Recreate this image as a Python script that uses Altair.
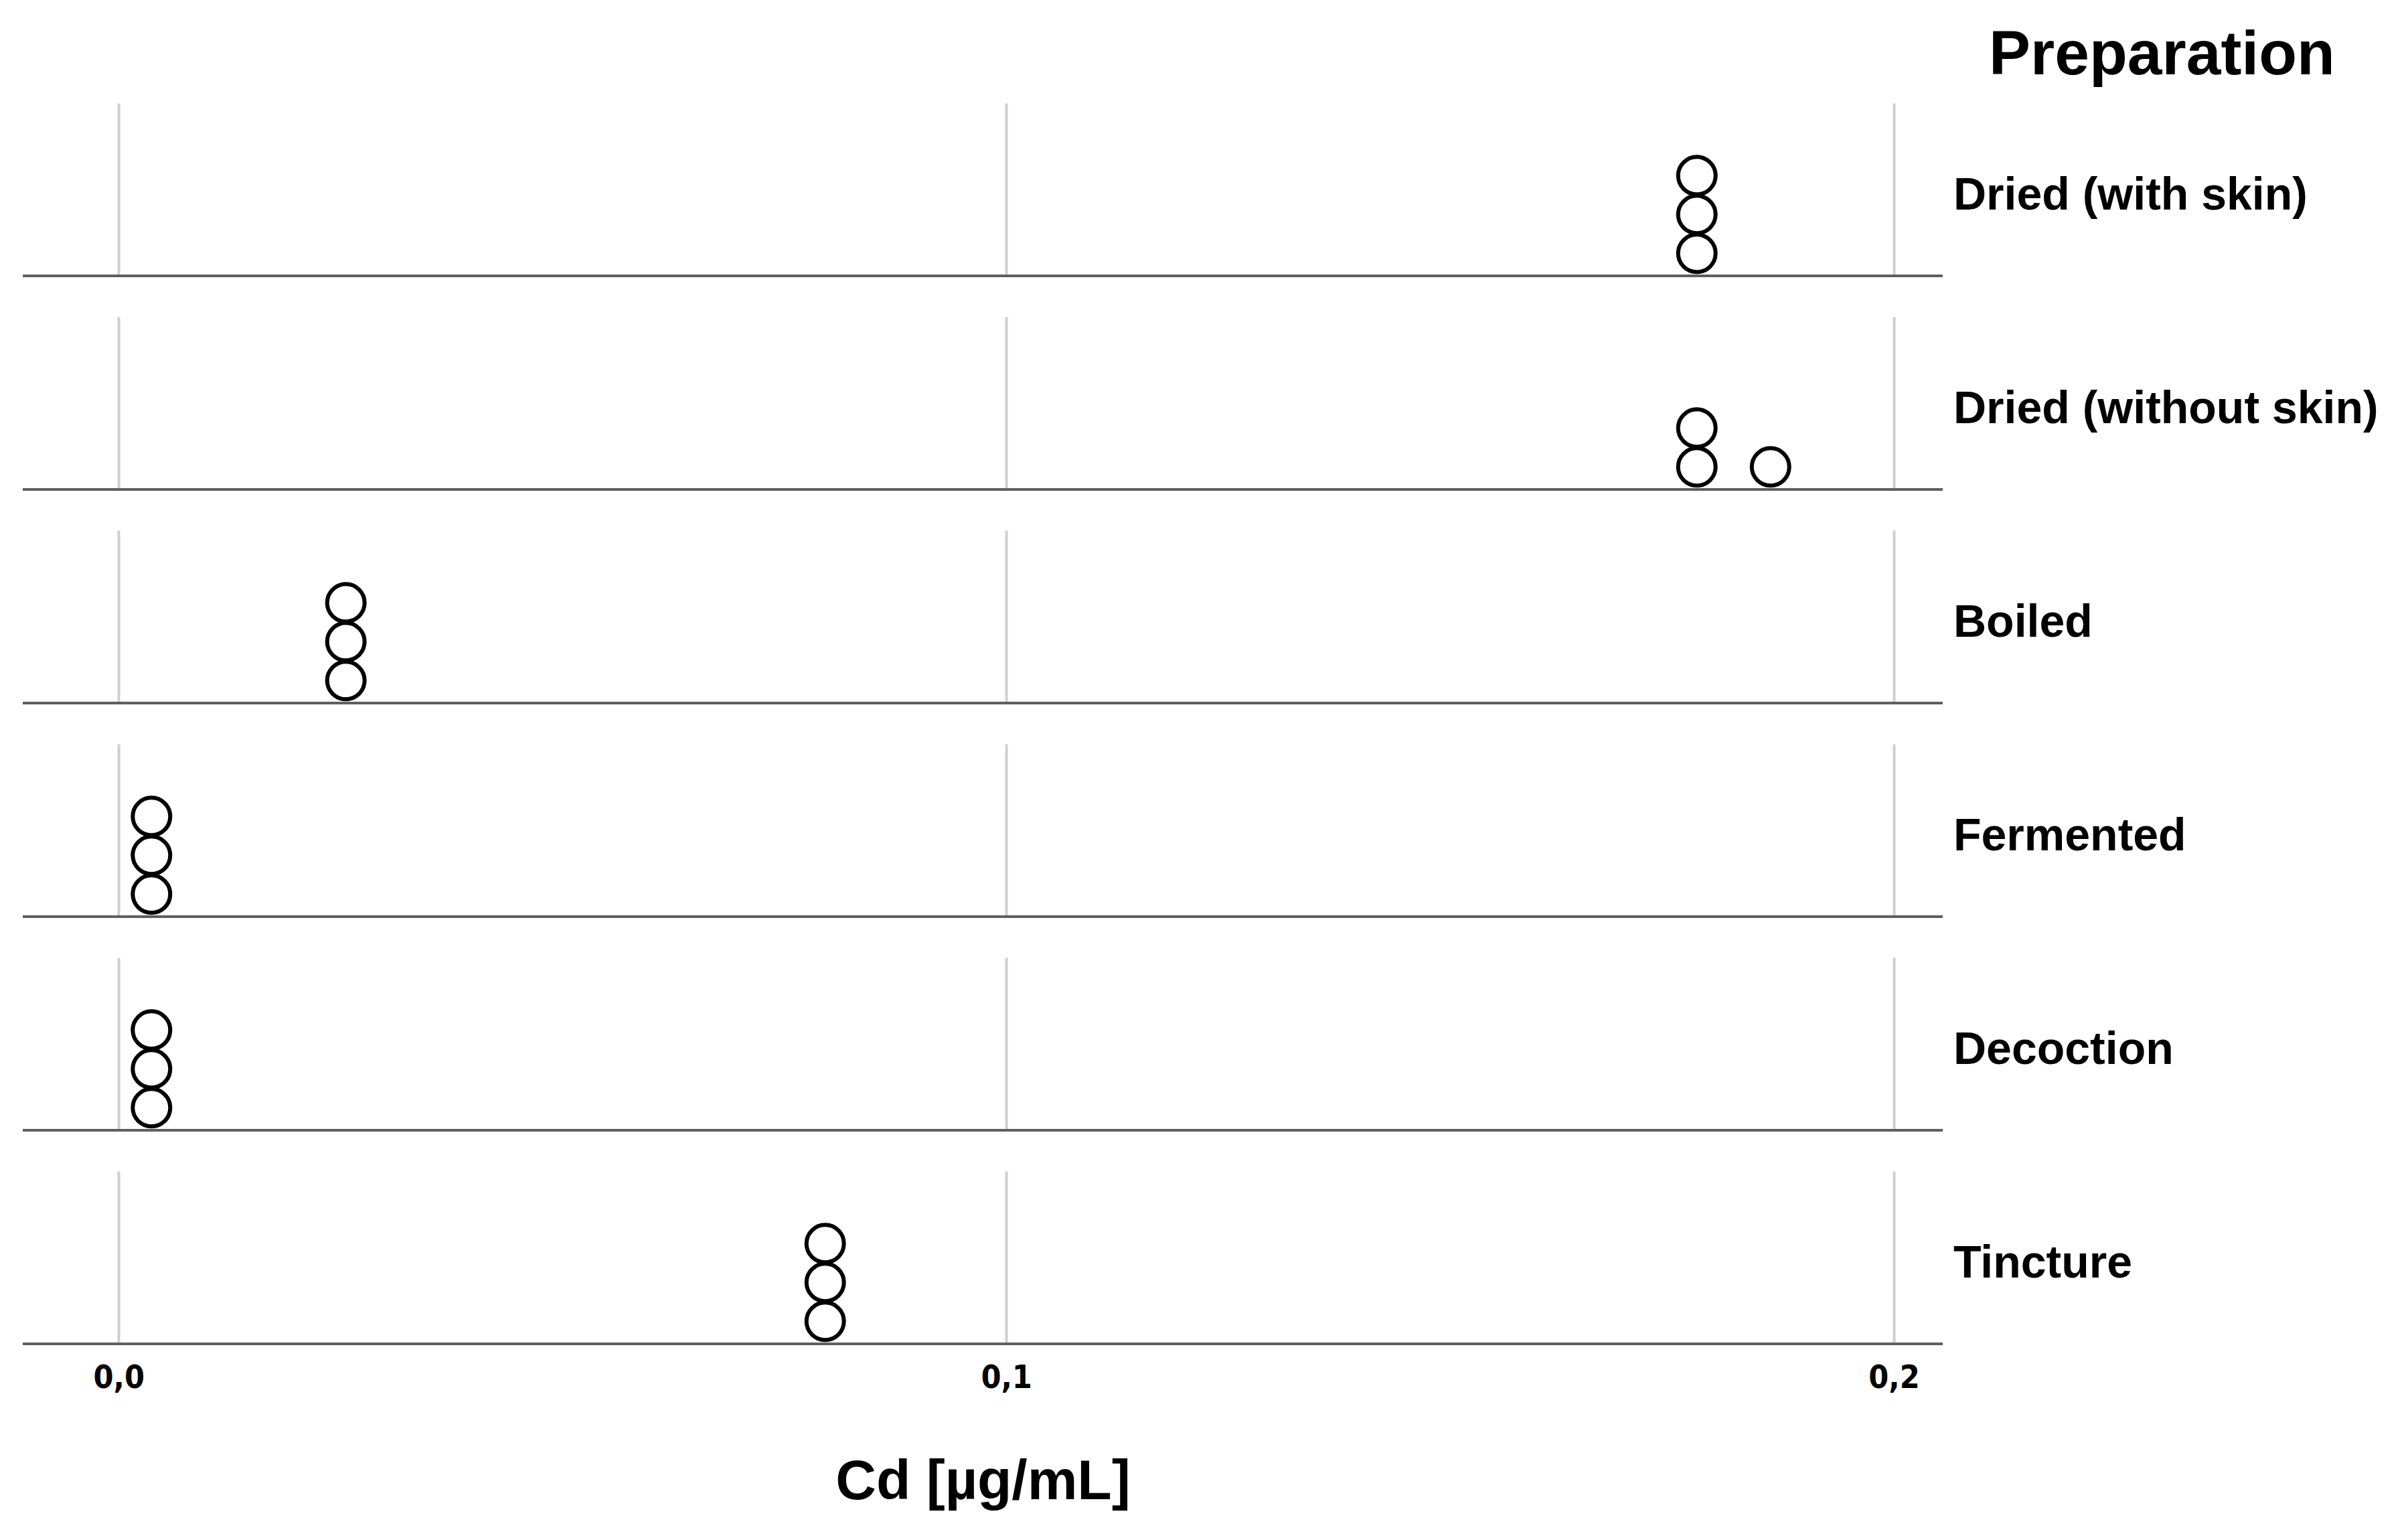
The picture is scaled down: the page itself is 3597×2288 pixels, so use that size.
import altair as alt
import pandas as pd

# Data
preparation = [
    "Dried (with skin)", "Dried (with skin)", "Dried (with skin)",
    "Dried (without skin)", "Dried (without skin)", "Dried (without skin)",
    "Boiled", "Boiled", "Boiled",
    "Fermented", "Fermented", "Fermented",
    "Decoction", "Decoction", "Decoction",
    "Tincture", "Tincture", "Tincture",
]
cd_values = [
    0.1778, 0.1778, 0.1778,
    0.1778, 0.1778, 0.1861,
    0.0256, 0.0256, 0.0256,
    0.0037, 0.0037, 0.0037,
    0.0037, 0.0037, 0.0037,
    0.0796, 0.0796, 0.0796,
]
row_order = ["Dried (with skin)", "Dried (without skin)", "Boiled",
             "Fermented", "Decoction", "Tincture"]
tick_values = [0.0, 0.1, 0.2]

df = pd.DataFrame({"Preparation": preparation, "Cd": cd_values})

W = 2868
H = 258
STEP = 58.0

base = alt.Chart(df)

points = base.transform_window(
    idx="row_number()", groupby=["Preparation", "Cd"]
).transform_calculate(
    stack="datum.idx - 0.42"
).mark_point(
    shape="circle", filled=False, color="black", strokeWidth=6, size=3136, opacity=1
).encode(
    x=alt.X("Cd:Q", scale=alt.Scale(domain=[-0.0108, 0.2055], nice=False, zero=False),
            axis=alt.Axis(values=tick_values, title="Cd [µg/mL]",
                          labelExpr="replace(format(datum.value, '.1f'), '.', ',')",
                          grid=True, gridColor="#cfcfcf", gridWidth=4,
                          ticks=False, domain=False,
                          labelFont="DejaVu Sans Condensed", labelFontSize=48,
                          labelFontWeight="bold",
                          labelColor="black", labelPadding=20,
                          titleFont="Liberation Sans", titleFontWeight="bold",
                          titleFontSize=84, titleColor="black", titlePadding=90)),
    y=alt.Y("stack:Q", scale=alt.Scale(domain=[0, H / STEP], nice=False), axis=None),
)

baseline = base.mark_rule(color="#5f5f5f", strokeWidth=4).encode(
    y=alt.value(H)
)

labels = base.transform_aggregate(
    n="count()", groupby=["Preparation"]
).mark_text(
    align="left", baseline="middle", font="Liberation Sans", fontWeight="bold",
    fontSize=68, color="black"
).encode(
    x=alt.value(W + 16), y=alt.value(139), text="Preparation:N"
)

layered = alt.layer(baseline, points, labels).properties(width=W, height=H)

chart = layered.facet(
    row=alt.Row("Preparation:N", sort=row_order,
                header=alt.Header(title=None, labels=False))
).properties(
    title=alt.TitleParams("Preparation", anchor="start", dx=2939, offset=23,
                          font="Liberation Sans", fontWeight="bold",
                          fontSize=93, color="black"),
    spacing=54,
    padding={"left": 24, "top": 29, "right": 5, "bottom": 5},
).configure_view(stroke=None)

chart.save("out.html", embed_options={"renderer": "svg", "actions": False})
